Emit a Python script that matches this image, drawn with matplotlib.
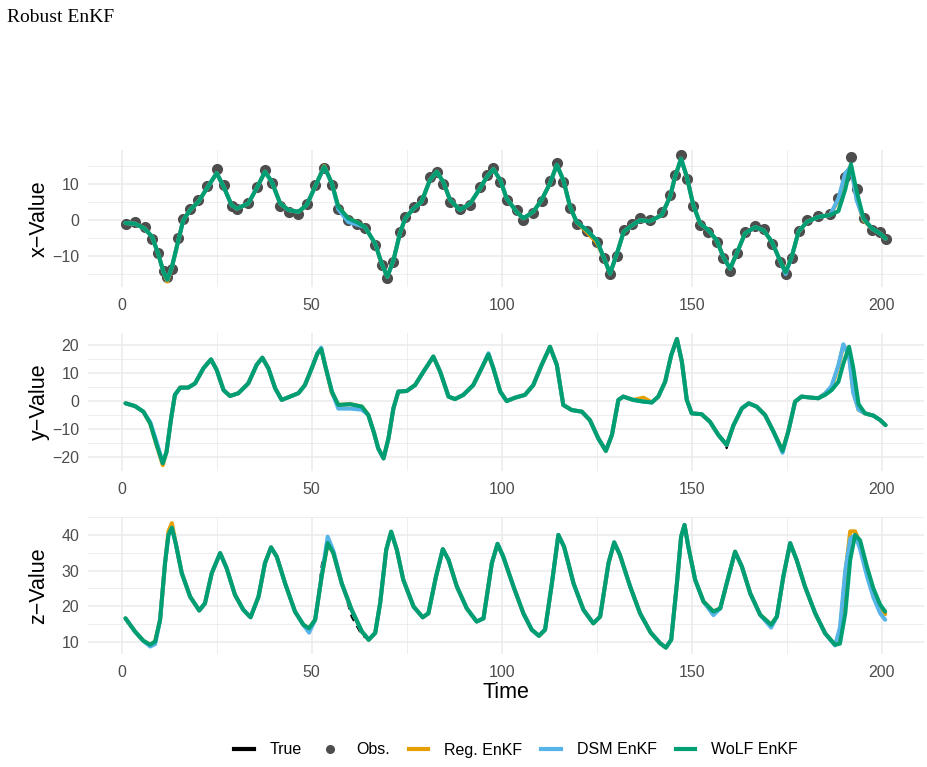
from matplotlib import pyplot as plt
from matplotlib.lines import Line2D

#%% datos (x, y, z del sistema)

tx = [1, 3.5, 6, 8, 9.6, 11, 12, 13.2, 14.9, 16.2,
      18, 20.2, 22.4, 25, 26.8, 28.9, 30.3, 33.3, 35.5, 37.7,
      39.5, 41.7, 43.9, 46.5, 48.7, 50.9, 53.3, 55.3, 57, 59.6,
      61.8, 64, 66.7, 68.4, 69.9, 71.5, 73.2, 74.6, 76.8, 78.9,
      81.1, 82.9, 84.6, 86.4, 89, 91.7, 94.3, 96.1, 97.8, 99.6,
      101.3, 103.9, 105.7, 108.3, 110.5, 112.7, 114.5, 116.2, 118, 119.7,
      122.4, 125, 126.8, 128.5, 130.3, 132.1, 134.2, 136.4, 139, 142.1,
      144.3, 145.6, 147.2, 148.7, 150.4, 152.2, 154.4, 156.6, 158.3, 160.1,
      161.8, 164, 166.7, 168.9, 171.1, 173.2, 174.7, 176.3, 178.1, 180.3,
      183.3, 186.4, 188.6, 190.4, 191.9, 193.4, 195.2, 197.4, 199.6, 201]

x_true = [-0.8, -1.0, -2.3, -4.6, -9.3, -14.4, -16.8, -13.0, -5.6, 0.0,
          2.8, 5.1, 8.8, 13.0, 9.3, 4.2, 3.2, 4.6, 8.8, 13.4,
          10.6, 4.6, 2.8, 2.3, 4.2, 9.3, 15.0, 10.2, 3.7, 0.5,
          -0.5, -1.9, -6.5, -12.0, -15.7, -11.1, -3.7, 0.5, 3.2, 5.1,
          11.1, 13.4, 10.6, 5.6, 2.8, 4.6, 8.8, 12.0, 14.1, 11.1,
          6.0, 2.3, 0.5, 2.3, 5.6, 10.2, 15.3, 11.1, 3.7, -0.5,
          -2.8, -5.6, -10.2, -14.8, -9.3, -3.2, -1.5, 0.0, -0.3, 1.4,
          6.5, 12.0, 17.0, 12.0, 4.2, -0.9, -2.8, -5.6, -10.2, -13.4,
          -9.3, -3.7, -1.9, -2.8, -6.0, -11.1, -14.4, -10.2, -3.2, -0.5,
          0.9, 1.4, 5.6, 12.5, 15.0, 6.0, 0.0, -2.3, -3.7, -5.1]

x_obs = [-1.0, -0.5, -2.0, -5.2, -9.0, -14.0, -15.8, -13.5, -5.0, 0.3,
         3.2, 5.5, 9.5, 14.2, 9.8, 3.8, 3.0, 4.8, 9.2, 14.0,
         10.2, 4.0, 2.2, 1.8, 4.5, 9.8, 14.5, 9.6, 3.2, 0.0,
         -1.0, -2.2, -7.0, -12.5, -15.9, -11.5, -3.3, 1.0, 3.6, 5.5,
         11.8, 13.2, 10.0, 5.0, 3.2, 4.2, 9.2, 12.6, 14.3, 10.5,
         5.5, 2.8, 0.0, 2.0, 5.2, 10.8, 15.8, 10.5, 3.3, -1.0,
         -3.0, -6.0, -10.5, -15.0, -9.8, -2.8, -1.0, 0.5, 0.0, 2.2,
         7.0, 12.5, 18.0, 11.5, 3.8, -1.3, -3.2, -6.0, -10.6, -14.0,
         -9.0, -3.3, -1.5, -2.5, -6.5, -11.5, -14.8, -10.5, -3.0, 0.0,
         1.2, 1.8, 6.2, 12.0, 17.6, 8.5, 0.5, -2.6, -3.4, -5.3]

x_reg = [-0.8, -1.0, -2.3, -4.6, -9.3, -14.4, -17.0, -13.0, -5.6, 0.0,
         2.8, 5.1, 8.8, 13.0, 9.3, 4.2, 3.2, 4.6, 8.8, 13.4,
         10.6, 4.6, 2.8, 2.3, 4.2, 9.3, 15.0, 10.2, 3.7, 0.5,
         -0.5, -1.9, -6.5, -12.0, -15.7, -11.1, -3.7, 0.5, 3.2, 5.1,
         11.1, 13.4, 10.6, 5.6, 2.8, 4.6, 8.8, 12.0, 14.1, 11.1,
         6.0, 2.3, 0.5, 2.3, 5.6, 10.2, 15.3, 11.1, 3.7, -0.5,
         -3.3, -6.2, -10.2, -14.8, -9.3, -3.2, -1.5, 0.0, -0.3, 1.4,
         6.5, 12.0, 17.0, 12.0, 4.2, -0.9, -2.8, -5.6, -10.2, -13.4,
         -9.3, -3.7, -1.9, -2.8, -6.0, -11.1, -14.4, -10.2, -3.2, -0.5,
         0.9, 1.4, 5.6, 12.5, 15.0, 6.0, 0.0, -2.3, -3.7, -5.1]

x_dsm = [-0.8, -1.0, -2.3, -4.6, -9.3, -14.4, -16.5, -13.0, -5.6, 0.0,
         2.8, 5.1, 8.8, 13.0, 9.3, 4.2, 3.2, 4.6, 8.8, 13.4,
         10.6, 4.6, 2.8, 2.3, 4.2, 9.3, 14.8, 10.2, 3.0, -0.5,
         -1.2, -1.9, -6.5, -12.0, -15.7, -11.1, -3.7, 0.5, 3.2, 5.1,
         11.1, 13.4, 10.6, 5.6, 2.8, 4.6, 8.8, 12.0, 14.1, 11.1,
         6.0, 2.3, 0.5, 2.3, 5.6, 10.2, 15.3, 11.1, 3.7, -0.5,
         -2.8, -5.6, -10.2, -14.8, -9.3, -3.2, -1.5, 0.0, -0.3, 1.4,
         6.5, 12.0, 17.0, 12.0, 4.2, -0.9, -2.8, -5.6, -10.2, -13.4,
         -9.3, -3.7, -1.9, -2.8, -6.0, -11.1, -14.9, -10.2, -3.2, -0.5,
         0.9, 1.4, 6.0, 13.0, 14.8, 5.5, 0.3, -2.3, -3.7, -5.1]

x_wolf = [-0.8, -1.0, -2.3, -4.6, -9.3, -14.4, -16.5, -13.0, -5.6, 0.0,
          2.8, 5.1, 8.8, 13.0, 9.3, 4.2, 3.2, 4.6, 8.8, 13.4,
          10.6, 4.6, 2.8, 2.3, 4.2, 9.3, 14.8, 10.2, 3.7, 0.5,
          -0.5, -1.9, -6.5, -12.0, -15.7, -11.1, -3.7, 0.5, 3.2, 5.1,
          11.1, 13.4, 10.6, 5.6, 2.8, 4.6, 8.8, 12.0, 14.1, 11.1,
          6.0, 2.3, 0.5, 2.3, 5.6, 10.2, 15.3, 11.1, 3.7, -0.5,
          -2.8, -5.6, -10.2, -14.8, -9.3, -3.2, -1.5, 0.0, -0.3, 1.4,
          6.5, 12.0, 17.0, 12.0, 4.2, -0.9, -2.8, -5.6, -10.2, -13.4,
          -9.3, -3.7, -1.9, -2.8, -6.0, -11.1, -14.4, -10.2, -3.2, -0.5,
          0.9, 1.4, 2.5, 8.5, 15.5, 8.0, 0.5, -2.3, -3.7, -5.1]

ty = [1, 3.5, 5.7, 7.5, 9.2, 10.8, 11.8, 13, 14, 15.4,
      17.5, 19.3, 21.5, 23.5, 25, 26.8, 28.5, 30.7, 33.3, 35.5,
      37, 38.6, 40.4, 42.1, 44.3, 46.5, 48.2, 50, 51.5, 52.5,
      53.5, 55.3, 57, 60.1, 63.2, 64.9, 66.4, 67.5, 68.9, 70.2,
      71.5, 72.8, 75, 77.2, 79.4, 82, 83.8, 86, 87.7, 89.9,
      92.5, 94.7, 96.5, 97.8, 99.6, 101.3, 103.5, 106.1, 108.3, 110.5,
      112.7, 114.5, 116.2, 118.4, 121.1, 123.2, 125.4, 127.4, 129, 130.7,
      132, 134.6, 137.3, 139.5, 141.2, 143, 144.6, 146.1, 147.4, 148.7,
      150, 152.6, 154.8, 157, 159.2, 161, 163.2, 165, 167.1, 169.3,
      171.5, 173.9, 175.4, 177.2, 178.9, 181.6, 183.3, 185.1, 186.8, 188.6,
      189.9, 191.4, 192.5, 193.9, 195.6, 197.8, 199.6, 201]

y_true = [-0.7, -1.7, -3.7, -7.9, -15.6, -22.1, -18.0, -6.1, 2.3, 4.9,
          4.9, 6.4, 11.8, 15.0, 11.2, 4.0, 1.9, 2.9, 6.4, 13.0,
          15.6, 11.8, 4.6, 0.5, 1.7, 2.9, 5.8, 12.8, 17.8, 18.7,
          13.0, 3.5, -1.3, -1.0, -1.9, -4.9, -11.3, -16.8, -20.4, -13.2,
          -2.5, 3.5, 3.7, 5.8, 10.6, 16.0, 10.6, 1.7, 0.8, 2.3,
          5.8, 11.8, 16.8, 11.8, 3.5, 0.1, 1.3, 2.3, 5.8, 13.0,
          19.5, 13.0, -1.3, -3.1, -3.7, -6.7, -13.2, -18.2, -12.0, 0.5,
          1.7, 0.5, -0.1, -0.4, 1.7, 7.0, 16.5, 22.3, 14.2, 0.5,
          -4.3, -4.6, -7.3, -12.0, -16.8, -8.5, -2.5, -0.7, -1.9, -4.9,
          -10.8, -17.7, -10.8, -0.1, 1.7, 1.3, 1.1, 3.2, 5.5, 12.0,
          19.5, 17.5, 4.0, -3.0, -4.3, -5.1, -6.7, -8.5]

y_reg = [-0.7, -1.7, -3.7, -7.9, -15.6, -22.8, -18.0, -6.1, 2.3, 4.9,
         4.9, 6.4, 11.8, 15.0, 11.2, 4.0, 1.9, 2.9, 6.4, 13.0,
         15.6, 11.8, 4.6, 0.5, 1.7, 2.9, 5.8, 11.8, 17.1, 18.7,
         13.0, 3.0, -1.3, -1.0, -1.9, -4.9, -11.3, -16.8, -20.4, -13.2,
         -2.5, 3.5, 3.7, 5.8, 10.6, 16.0, 10.6, 1.7, 0.8, 2.3,
         5.8, 11.8, 16.8, 11.8, 3.5, 0.1, 1.3, 2.3, 5.8, 13.0,
         19.5, 13.0, -1.3, -3.1, -3.7, -6.7, -13.2, -17.7, -12.0, 0.5,
         1.7, 0.5, 1.3, -0.4, 1.7, 7.0, 16.5, 22.3, 14.2, 0.5,
         -4.3, -4.6, -7.3, -12.0, -15.6, -8.5, -2.5, -0.7, -1.9, -4.9,
         -10.8, -17.7, -10.8, -0.1, 1.7, 1.3, 1.1, 2.8, 5.0, 12.5,
         20.0, 17.0, 3.5, -3.0, -4.3, -5.1, -6.7, -8.5]

y_dsm = [-0.7, -1.7, -3.7, -7.4, -14.5, -22.1, -18.0, -6.1, 2.3, 4.9,
         4.9, 6.4, 11.8, 15.0, 11.2, 4.0, 1.9, 2.9, 6.4, 13.0,
         15.6, 11.8, 4.6, 0.5, 1.7, 2.9, 5.8, 11.8, 17.1, 19.2,
         13.0, 3.5, -2.6, -2.6, -3.0, -4.9, -11.3, -16.8, -20.4, -13.2,
         -2.5, 3.5, 3.7, 5.8, 10.6, 16.0, 10.6, 1.7, 0.8, 2.3,
         5.8, 11.8, 17.2, 11.8, 3.5, 0.1, 1.3, 2.3, 5.8, 13.0,
         19.5, 13.0, -1.3, -3.1, -3.7, -6.7, -13.2, -17.7, -12.0, 0.5,
         1.7, 0.5, -0.1, -0.4, 1.7, 7.0, 16.5, 22.3, 14.2, 0.5,
         -4.3, -4.6, -7.3, -12.0, -15.6, -8.5, -2.5, -0.7, -1.9, -4.9,
         -10.8, -18.4, -10.8, -0.1, 1.7, 1.3, 1.1, 2.8, 5.5, 13.0,
         20.4, 16.0, 3.0, -3.0, -4.3, -5.1, -6.7, -8.5]

y_wolf = [-0.7, -1.7, -3.7, -7.9, -15.6, -22.1, -18.0, -6.1, 2.3, 4.9,
          4.9, 6.4, 11.8, 15.0, 11.2, 4.0, 1.9, 2.9, 6.4, 13.0,
          15.6, 11.8, 4.6, 0.5, 1.7, 2.9, 5.8, 11.8, 17.1, 18.7,
          13.0, 3.5, -1.3, -1.0, -1.9, -4.9, -11.3, -16.8, -20.4, -13.2,
          -2.5, 3.5, 3.7, 5.8, 10.6, 16.0, 10.6, 1.7, 0.8, 2.3,
          5.8, 11.8, 16.8, 11.8, 3.5, 0.1, 1.3, 2.3, 5.8, 13.0,
          19.5, 13.0, -1.3, -3.1, -3.7, -6.7, -13.2, -17.7, -12.0, 0.5,
          1.7, 0.5, -0.1, -0.4, 1.7, 7.0, 16.5, 22.3, 14.2, 0.5,
          -4.3, -4.6, -7.3, -12.0, -15.6, -8.5, -2.5, -0.7, -1.9, -4.9,
          -10.8, -17.7, -10.8, -0.1, 1.7, 1.3, 1.1, 2.3, 4.0, 7.0,
          13.5, 19.5, 12.0, -1.0, -4.3, -5.1, -6.7, -8.5]

tz = [1, 3.5, 5.7, 7.5, 8.8, 10.1, 11.4, 12.3, 13.2, 14.2,
      15.8, 18, 20.4, 21.9, 23.7, 25.9, 27.6, 29.8, 32, 33.9,
      36, 37.7, 39.3, 40.8, 43, 45.6, 47.8, 49.3, 50.9, 52.6,
      54.2, 55.7, 57.9, 60.5, 63.2, 65, 66.7, 68, 69.6, 70.9,
      72.4, 74.1, 76.8, 79.2, 80.7, 82.7, 84.5, 86, 88.2, 90.8,
      93.4, 95.2, 97.4, 98.9, 100.4, 103.1, 105.7, 107.9, 109.8, 111.4,
      113.2, 114.9, 116.4, 118.9, 121.5, 124.1, 125.9, 128.1, 129.6, 131.1,
      133.8, 136.4, 139.2, 141.7, 143.2, 144.6, 146.1, 147.2, 148.1, 149.1,
      150.9, 153.1, 155.7, 157.5, 159.2, 161.4, 163.2, 165.4, 168, 170.9,
      172.4, 174.1, 175.9, 177.6, 179.8, 182.5, 185.1, 187.7, 189, 190.4,
      191.7, 193, 194.3, 196.1, 197.8, 199.6, 200.9]

z_true = [16.6, 12.9, 10.3, 9.2, 10.1, 16.2, 32.1, 40.0, 42.0, 37.7,
          29.3, 22.7, 18.8, 20.8, 29.3, 34.9, 30.7, 23.2, 19.0, 16.9,
          22.7, 32.1, 36.5, 33.9, 26.4, 18.5, 14.8, 13.8, 16.2, 31.5,
          37.7, 34.9, 26.4, 17.0, 11.8, 10.6, 12.5, 20.8, 35.8, 40.9,
          35.8, 27.4, 19.9, 16.9, 18.0, 28.3, 36.0, 33.0, 25.5, 19.4,
          15.7, 16.6, 32.1, 37.5, 33.9, 25.5, 18.0, 13.4, 11.7, 13.4,
          26.4, 40.0, 36.7, 26.4, 19.0, 15.2, 17.1, 32.1, 37.9, 34.4,
          25.5, 18.0, 12.6, 9.6, 8.2, 10.6, 26.4, 39.5, 42.8, 36.7,
          27.4, 21.3, 18.5, 19.4, 26.4, 35.3, 31.1, 23.6, 17.6, 14.8,
          17.1, 28.3, 37.7, 33.0, 25.5, 18.0, 12.4, 9.2, 12.0, 29.0,
          41.0, 41.0, 37.5, 30.5, 24.5, 19.8, 17.8]

z_reg = [16.6, 12.9, 10.3, 9.2, 10.1, 16.2, 32.1, 41.0, 43.3, 37.7,
         29.3, 22.7, 18.8, 20.8, 29.3, 34.9, 30.7, 23.2, 19.0, 16.9,
         22.7, 32.1, 36.5, 33.9, 26.4, 18.5, 14.8, 13.8, 16.2, 28.3,
         37.7, 34.9, 26.4, 19.0, 12.9, 10.6, 12.5, 20.8, 35.8, 40.9,
         35.8, 27.4, 19.9, 16.9, 18.0, 28.3, 36.0, 33.0, 25.5, 19.4,
         15.7, 16.6, 32.1, 37.5, 33.9, 25.5, 18.0, 13.4, 11.7, 13.4,
         26.4, 40.0, 36.7, 26.4, 19.0, 15.2, 17.1, 32.1, 37.9, 34.4,
         25.5, 18.0, 12.6, 9.6, 8.4, 10.6, 26.4, 39.5, 42.8, 36.7,
         27.4, 21.3, 18.5, 19.4, 26.4, 35.3, 31.1, 23.6, 17.6, 14.8,
         17.1, 28.3, 37.7, 33.0, 25.5, 18.0, 12.4, 9.2, 12.0, 29.0,
         41.0, 41.0, 37.5, 30.5, 24.5, 19.8, 17.8]

z_dsm = [16.6, 12.9, 10.3, 8.7, 9.4, 16.2, 32.1, 40.0, 42.0, 37.7,
         29.3, 22.7, 18.8, 20.8, 29.3, 34.9, 30.7, 23.2, 19.0, 16.9,
         22.7, 32.1, 36.5, 33.9, 26.4, 18.5, 14.8, 12.6, 16.2, 28.3,
         39.5, 35.5, 26.4, 19.0, 12.9, 10.6, 12.5, 20.8, 35.8, 40.9,
         35.8, 27.4, 19.9, 16.9, 18.0, 28.3, 36.0, 33.0, 25.5, 19.4,
         15.7, 16.6, 32.1, 37.5, 33.9, 25.5, 18.0, 13.4, 11.7, 13.4,
         26.4, 40.0, 36.7, 26.4, 19.0, 15.2, 17.1, 32.1, 37.9, 34.4,
         25.5, 18.0, 12.6, 9.6, 8.4, 10.6, 26.4, 39.5, 42.8, 36.7,
         27.4, 21.3, 17.5, 19.4, 26.4, 35.3, 31.1, 23.6, 17.6, 14.0,
         17.1, 28.3, 37.7, 33.0, 25.5, 18.0, 12.4, 9.0, 14.0, 30.0,
         39.0, 40.0, 36.0, 28.5, 22.5, 18.0, 16.2]

z_wolf = [16.6, 12.9, 10.3, 9.2, 10.1, 16.2, 32.1, 40.0, 42.0, 37.7,
          29.3, 22.7, 18.8, 20.8, 29.3, 34.9, 30.7, 23.2, 19.0, 16.9,
          22.7, 32.1, 36.5, 33.9, 26.4, 18.5, 14.8, 13.8, 16.2, 28.3,
          37.7, 34.9, 26.4, 19.0, 12.9, 10.6, 12.5, 20.8, 35.8, 40.9,
          35.8, 27.4, 19.9, 16.9, 18.0, 28.3, 36.0, 33.0, 25.5, 19.4,
          15.7, 16.6, 32.1, 37.5, 33.9, 25.5, 18.0, 13.4, 11.7, 13.4,
          26.4, 40.0, 36.7, 26.4, 19.0, 15.2, 17.1, 32.1, 37.9, 34.4,
          25.5, 18.0, 12.6, 9.6, 8.4, 10.6, 26.4, 39.5, 42.8, 36.7,
          27.4, 21.3, 18.5, 19.4, 26.4, 35.3, 31.1, 23.6, 17.6, 14.8,
          17.1, 28.3, 37.7, 33.0, 25.5, 18.0, 12.4, 9.2, 9.5, 18.0,
          33.0, 40.0, 38.5, 31.1, 25.0, 20.4, 18.5]

#%% estilo

plt.rcParams['font.family'] = ['Liberation Sans', 'DejaVu Sans']

c_reg = '#E69F00'
c_dsm = '#56B4E9'
c_wolf = '#009E73'
c_obs = '#4D4D4D'
grid = '#EBEBEB'


def panel(ax, t, tru, reg, dsm, wolf, ylab, ylim, yt, ymin, obs=None):
    if obs is not None:
        ax.plot(t, obs, 'o', color=c_obs, ms=7, zorder=2)
    ax.plot(t, tru, color='black', lw=1.3, ls=(0, (4, 3)), zorder=3)
    for v, c, z in [(reg, c_reg, 4), (dsm, c_dsm, 5), (wolf, c_wolf, 6)]:
        ax.plot(t, v, color=c, lw=2.9, zorder=z,
                solid_joinstyle='round', solid_capstyle='round')
    ax.set_xlim(-9, 211)
    ax.set_ylim(*ylim)
    ax.set_xticks([0, 50, 100, 150, 200])
    ax.set_xticks([25, 75, 125, 175], minor=True)
    ax.set_yticks(yt)
    ax.set_yticks(ymin, minor=True)
    ax.grid(which='major', color=grid, lw=1.1)
    ax.grid(which='minor', color=grid, lw=0.6)
    ax.set_axisbelow(True)
    for s in ax.spines.values():
        s.set_visible(False)
    ax.tick_params(which='both', length=0, labelsize=11.5, labelcolor='#4D4D4D')
    ax.tick_params(axis='x', pad=8)
    ax.tick_params(axis='y', pad=6)
    ax.set_ylabel(ylab, fontsize=15.5)
    ax.yaxis.set_label_coords(-0.058, 0.5)
    ax.yaxis.label.set_va('center')


fig = plt.figure(figsize=(9.28, 7.67), dpi=100)

ax1 = fig.add_axes([0.0943, 0.6258, 0.9009, 0.1786])
panel(ax1, tx, x_true, x_reg, x_dsm, x_wolf, 'x\u2212Value', (-18.5, 19.4),
      [-10, 0, 10], [-15, -5, 5, 15], obs=x_obs)

ax2 = fig.add_axes([0.0943, 0.3859, 0.9009, 0.1795])
panel(ax2, ty, y_true, y_reg, y_dsm, y_wolf, 'y\u2212Value', (-24.9, 24.3),
      [-20, -10, 0, 10, 20], [-15, -5, 5, 15])

ax3 = fig.add_axes([0.0943, 0.1473, 0.9009, 0.179])
panel(ax3, tz, z_true, z_reg, z_dsm, z_wolf, 'z\u2212Value', (6.6, 45.1),
      [10, 20, 30, 40], [15, 25, 35, 45])
ax3.set_xlabel('Time', fontsize=15.5)
ax3.xaxis.set_label_coords(0.5, -0.277)
ax3.xaxis.label.set_va('center')

fig.text(7 / 928, 1 - 18 / 767, 'Robust EnKF', family='Liberation Serif',
         fontsize=14, ha='left', va='center')

handles = [Line2D([], [], color='black', lw=3),
           Line2D([], [], color=c_obs, marker='o', ls='none', ms=5.5),
           Line2D([], [], color=c_reg, lw=3),
           Line2D([], [], color=c_dsm, lw=3),
           Line2D([], [], color=c_wolf, lw=3)]
labels = ['True', 'Obs.', 'Reg. EnKF', 'DSM EnKF', 'WoLF EnKF']
fig.legend(handles, labels, loc='center', bbox_to_anchor=(0.556, 1 - 750 / 767),
           ncol=5, frameon=False, fontsize=11.5, handlelength=1.2,
           columnspacing=1.2, handletextpad=1.0)

fig.savefig('out.png', dpi=100)
